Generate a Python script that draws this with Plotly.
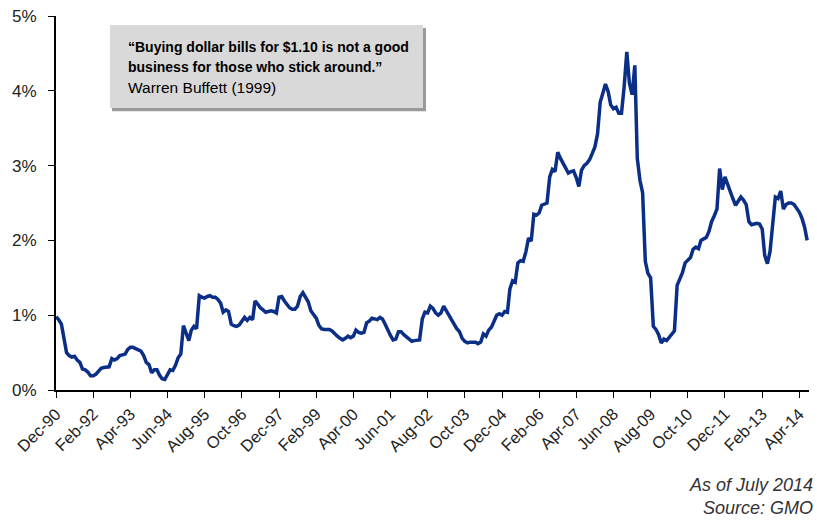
import pandas as pd
import plotly.graph_objects as go

# Monthly series, Dec-1990 .. Jul-2014 (percent)
start_month = "1990-12-01"
values = [
    0.98, 0.94, 0.88, 0.68, 0.50, 0.46, 0.44, 0.45, 0.40, 0.37,
    0.28, 0.27, 0.24, 0.19, 0.19, 0.21, 0.25, 0.29, 0.30, 0.30,
    0.31, 0.42, 0.40, 0.42, 0.46, 0.47, 0.48, 0.54, 0.57, 0.57,
    0.55, 0.54, 0.52, 0.46, 0.37, 0.34, 0.23, 0.27, 0.27, 0.20,
    0.15, 0.14, 0.22, 0.27, 0.26, 0.33, 0.43, 0.48, 0.86, 0.76,
    0.66, 0.80, 0.85, 0.82, 1.26, 1.24, 1.23, 1.25, 1.26, 1.24,
    1.24, 1.21, 1.16, 1.04, 1.07, 1.05, 0.88, 0.86, 0.85, 0.87,
    0.93, 0.97, 0.93, 0.97, 0.94, 1.19, 1.15, 1.10, 1.07, 1.04,
    1.05, 1.06, 1.05, 1.03, 1.24, 1.25, 1.19, 1.14, 1.10, 1.08,
    1.08, 1.12, 1.25, 1.30, 1.25, 1.18, 1.06, 1.00, 0.96, 0.87,
    0.82, 0.81, 0.81, 0.81, 0.79, 0.75, 0.72, 0.69, 0.67, 0.69,
    0.72, 0.70, 0.72, 0.80, 0.77, 0.76, 0.77, 0.90, 0.92, 0.96,
    0.95, 0.94, 0.97, 0.95, 0.88, 0.80, 0.73, 0.67, 0.68, 0.78,
    0.78, 0.74, 0.71, 0.67, 0.65, 0.66, 0.66, 0.67, 0.95, 1.04,
    1.03, 1.12, 1.09, 1.03, 1.00, 1.03, 1.12, 1.06, 1.01, 0.95,
    0.87, 0.82, 0.78, 0.69, 0.65, 0.63, 0.64, 0.64, 0.64, 0.62,
    0.64, 0.75, 0.72, 0.80, 0.84, 0.92, 1.00, 1.02, 1.00, 1.05,
    1.04, 1.35, 1.46, 1.44, 1.70, 1.73, 1.72, 1.85, 2.03, 1.99,
    2.35, 2.34, 2.37, 2.47, 2.48, 2.50, 2.85, 2.95, 2.92, 3.18,
    3.10, 3.04, 2.96, 2.90, 2.92, 2.93, 2.84, 2.72, 2.94, 3.00,
    3.03, 3.08, 3.16, 3.25, 3.42, 3.85, 3.97, 4.09, 3.99, 3.81,
    3.76, 3.78, 3.70, 3.70, 4.05, 4.52, 4.10, 3.95, 4.34, 3.10,
    2.80, 2.64, 1.72, 1.56, 1.50, 0.85, 0.81, 0.74, 0.63, 0.68,
    0.66, 0.70, 0.74, 0.79, 1.40, 1.48, 1.57, 1.70, 1.74, 1.77,
    1.88, 1.91, 1.89, 2.00, 2.02, 2.04, 2.12, 2.25, 2.33, 2.42,
    2.96, 2.68, 2.85, 2.74, 2.64, 2.56, 2.47, 2.52, 2.58, 2.54,
    2.48, 2.25, 2.21, 2.22, 2.23, 2.22, 2.15, 1.80, 1.69, 1.85,
    2.20, 2.58, 2.56, 2.66, 2.42, 2.48, 2.50, 2.50, 2.48, 2.43,
    2.38, 2.30, 2.18, 2.00,
]

x_tick_labels = [
    "Dec-90", "Feb-92", "Apr-93", "Jun-94", "Aug-95", "Oct-96", "Dec-97",
    "Feb-99", "Apr-00", "Jun-01", "Aug-02", "Oct-03", "Dec-04", "Feb-06",
    "Apr-07", "Jun-08", "Aug-09", "Oct-10", "Dec-11", "Feb-13", "Apr-14",
]
y_tick_vals = [0, 1, 2, 3, 4, 5]
y_tick_labels = ["0%", "1%", "2%", "3%", "4%", "5%"]

quote_lines = [
    "<b>\u201cBuying dollar bills for $1.10 is not a good</b>",
    "<b>business for those who stick around.\u201d</b>",
    "Warren Buffett (1999)",
]
footnotes = ["<i>As of July 2014</i>", "<i>Source: GMO</i>"]

dates = pd.date_range(start_month, periods=len(values), freq="MS")
tick_dates = pd.to_datetime(x_tick_labels, format="%b-%y")

FONT = "Liberation Sans, Arial, sans-serif"
fig = go.Figure()
fig.add_trace(go.Scatter(
    x=dates, y=values, mode="lines",
    line=dict(color="#0b2f86", width=3.5),
    hoverinfo="skip", showlegend=False,
))

fig.update_layout(
    width=817, height=521,
    margin=dict(l=56, r=8, t=16, b=131),
    paper_bgcolor="white", plot_bgcolor="white",
    font=dict(family=FONT, size=15, color="#222222"),
    xaxis=dict(
        range=[dates[0], pd.Timestamp("2014-07-22")],
        tickvals=tick_dates, ticktext=x_tick_labels, tickangle=-45,
        showgrid=False, zeroline=False,
        showline=True, linecolor="black", linewidth=2,
        ticks="outside", ticklen=6, tickwidth=1, tickcolor="black",
        tickfont=dict(size=16.5, color="#222222"),
    ),
    yaxis=dict(
        range=[0, 5], tickvals=y_tick_vals, ticktext=y_tick_labels,
        showgrid=False, zeroline=False,
        showline=True, linecolor="black", linewidth=2,
        ticks="outside", ticklen=6, tickwidth=1, tickcolor="black",
        tickfont=dict(size=17, color="#222222"),
        ticklabelstandoff=8,
    ),
)

def px_x(px):
    return (px - 56) / 753.0

def px_y(py):
    return (389.5 - py) / 373.5

# quote box with drop shadow
fig.add_shape(type="rect", xref="paper", yref="paper",
              x0=px_x(112), x1=px_x(426), y0=px_y(111), y1=px_y(28),
              fillcolor="#9a9a9a", line=dict(width=0), layer="above")
fig.add_shape(type="rect", xref="paper", yref="paper",
              x0=px_x(110), x1=px_x(423), y0=px_y(108), y1=px_y(25),
              fillcolor="#d9d9d9", line=dict(width=0), layer="above")

quote_sizes = [14, 14, 15.5]
for line, py, fs in zip(quote_lines, [47, 67, 87], quote_sizes):
    fig.add_annotation(text=line, xref="paper", yref="paper",
                       x=px_x(126), y=px_y(py), xanchor="left", yanchor="middle",
                       showarrow=False, font=dict(size=fs, color="black", family=FONT))

for line, py in zip(footnotes, [484, 507]):
    fig.add_annotation(text=line, xref="paper", yref="paper",
                       x=px_x(815), y=px_y(py), xanchor="right", yanchor="middle",
                       showarrow=False, font=dict(size=18, color="#333333", family=FONT))

fig.write_html("out.html", config={"displayModeBar": False},
               post_script="document.body.style.margin='0';")
